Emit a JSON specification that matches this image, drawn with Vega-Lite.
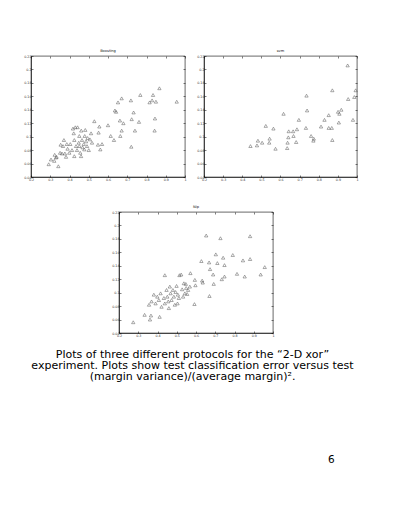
{
  "$schema": "https://vega.github.io/schema/vega-lite/v6.json",
  "padding": {"left": 23, "top": 48, "right": 0, "bottom": 0},
  "background": "white",
  "spacing": 23,
  "title": {"text": "6", "orient": "bottom", "anchor": "end", "dx": -24, "offset": 73, "font": "DejaVu Sans", "fontSize": 10.5, "fontWeight": "normal", "color": "#000"},
  "config": {
    "view": {"stroke": "#000", "strokeWidth": 0.6},
    "axis": {"grid": false, "domainColor": "#000", "domainWidth": 0.6, "tickColor": "#000", "tickWidth": 0.5, "tickSize": -2, "labelFontSize": 3.3, "labelFont": "DejaVu Sans", "labelColor": "#333", "labelPadding": 2, "format": "~g", "labelFlush": false, "labelOverlap": false},
    "title": {"fontSize": 3.6, "font": "DejaVu Sans", "fontWeight": "normal", "color": "#111", "offset": 1.5}
  },
  "datasets": {
    "boosting": [
      {"x": 0.867, "y": 0.172}, {"x": 0.768, "y": 0.162}, {"x": 0.834, "y": 0.162}, {"x": 0.719, "y": 0.154},
      {"x": 0.671, "y": 0.157}, {"x": 0.652, "y": 0.151}, {"x": 0.829, "y": 0.154}, {"x": 0.849, "y": 0.152},
      {"x": 0.816, "y": 0.151}, {"x": 0.957, "y": 0.152}, {"x": 0.636, "y": 0.139}, {"x": 0.642, "y": 0.137},
      {"x": 0.733, "y": 0.136}, {"x": 0.723, "y": 0.126}, {"x": 0.662, "y": 0.124}, {"x": 0.680, "y": 0.120},
      {"x": 0.761, "y": 0.122}, {"x": 0.844, "y": 0.127}, {"x": 0.529, "y": 0.123}, {"x": 0.600, "y": 0.117},
      {"x": 0.555, "y": 0.115}, {"x": 0.614, "y": 0.101}, {"x": 0.671, "y": 0.109}, {"x": 0.664, "y": 0.101},
      {"x": 0.740, "y": 0.109}, {"x": 0.842, "y": 0.109}, {"x": 0.631, "y": 0.095}, {"x": 0.721, "y": 0.085},
      {"x": 0.551, "y": 0.106}, {"x": 0.548, "y": 0.088}, {"x": 0.569, "y": 0.089}, {"x": 0.560, "y": 0.081},
      {"x": 0.292, "y": 0.059}, {"x": 0.304, "y": 0.066}, {"x": 0.321, "y": 0.064}, {"x": 0.323, "y": 0.073},
      {"x": 0.333, "y": 0.070}, {"x": 0.342, "y": 0.056}, {"x": 0.351, "y": 0.076}, {"x": 0.361, "y": 0.075},
      {"x": 0.366, "y": 0.086}, {"x": 0.371, "y": 0.095}, {"x": 0.354, "y": 0.088}, {"x": 0.382, "y": 0.070},
      {"x": 0.390, "y": 0.082}, {"x": 0.399, "y": 0.076}, {"x": 0.404, "y": 0.089}, {"x": 0.413, "y": 0.080},
      {"x": 0.422, "y": 0.105}, {"x": 0.425, "y": 0.095}, {"x": 0.430, "y": 0.114}, {"x": 0.442, "y": 0.114},
      {"x": 0.434, "y": 0.086}, {"x": 0.439, "y": 0.080}, {"x": 0.448, "y": 0.091}, {"x": 0.451, "y": 0.101},
      {"x": 0.456, "y": 0.076}, {"x": 0.461, "y": 0.109}, {"x": 0.465, "y": 0.095}, {"x": 0.468, "y": 0.084},
      {"x": 0.474, "y": 0.089}, {"x": 0.479, "y": 0.101}, {"x": 0.482, "y": 0.110}, {"x": 0.486, "y": 0.093},
      {"x": 0.491, "y": 0.086}, {"x": 0.494, "y": 0.098}, {"x": 0.500, "y": 0.080}, {"x": 0.506, "y": 0.096},
      {"x": 0.512, "y": 0.105}, {"x": 0.517, "y": 0.091}, {"x": 0.418, "y": 0.112}, {"x": 0.386, "y": 0.089},
      {"x": 0.376, "y": 0.075}, {"x": 0.330, "y": 0.069}, {"x": 0.451, "y": 0.086}, {"x": 0.477, "y": 0.081},
      {"x": 0.460, "y": 0.071}, {"x": 0.425, "y": 0.071}
    ],
    "svm": [
      {"x": 0.951, "y": 0.206}, {"x": 0.871, "y": 0.169}, {"x": 0.993, "y": 0.169}, {"x": 0.736, "y": 0.161},
      {"x": 0.954, "y": 0.156}, {"x": 0.986, "y": 0.159}, {"x": 0.739, "y": 0.139}, {"x": 0.616, "y": 0.134},
      {"x": 0.918, "y": 0.140}, {"x": 0.901, "y": 0.137}, {"x": 0.908, "y": 0.134}, {"x": 0.852, "y": 0.132},
      {"x": 0.830, "y": 0.125}, {"x": 0.905, "y": 0.121}, {"x": 0.979, "y": 0.125}, {"x": 0.696, "y": 0.125},
      {"x": 0.523, "y": 0.116}, {"x": 0.563, "y": 0.112}, {"x": 0.812, "y": 0.115}, {"x": 0.852, "y": 0.113},
      {"x": 0.868, "y": 0.113}, {"x": 0.733, "y": 0.113}, {"x": 0.686, "y": 0.111}, {"x": 0.643, "y": 0.108},
      {"x": 0.666, "y": 0.108}, {"x": 0.641, "y": 0.099}, {"x": 0.668, "y": 0.101}, {"x": 0.760, "y": 0.101},
      {"x": 0.774, "y": 0.097}, {"x": 0.772, "y": 0.094}, {"x": 0.543, "y": 0.097}, {"x": 0.541, "y": 0.091},
      {"x": 0.482, "y": 0.094}, {"x": 0.477, "y": 0.087}, {"x": 0.504, "y": 0.091}, {"x": 0.443, "y": 0.086},
      {"x": 0.574, "y": 0.082}, {"x": 0.637, "y": 0.091}, {"x": 0.635, "y": 0.083}, {"x": 0.682, "y": 0.092},
      {"x": 0.871, "y": 0.095}
    ],
    "nip": [
      {"x": 0.653, "y": 0.185}, {"x": 0.727, "y": 0.181}, {"x": 0.881, "y": 0.184}, {"x": 0.703, "y": 0.157},
      {"x": 0.791, "y": 0.156}, {"x": 0.741, "y": 0.152}, {"x": 0.881, "y": 0.150}, {"x": 0.844, "y": 0.148},
      {"x": 0.628, "y": 0.147}, {"x": 0.668, "y": 0.145}, {"x": 0.711, "y": 0.144}, {"x": 0.748, "y": 0.141},
      {"x": 0.957, "y": 0.138}, {"x": 0.673, "y": 0.135}, {"x": 0.689, "y": 0.127}, {"x": 0.813, "y": 0.128},
      {"x": 0.936, "y": 0.127}, {"x": 0.853, "y": 0.124}, {"x": 0.748, "y": 0.124}, {"x": 0.734, "y": 0.120},
      {"x": 0.438, "y": 0.126}, {"x": 0.514, "y": 0.126}, {"x": 0.523, "y": 0.127}, {"x": 0.571, "y": 0.129},
      {"x": 0.594, "y": 0.119}, {"x": 0.632, "y": 0.118}, {"x": 0.635, "y": 0.115}, {"x": 0.692, "y": 0.113},
      {"x": 0.597, "y": 0.111}, {"x": 0.670, "y": 0.095}, {"x": 0.592, "y": 0.083}, {"x": 0.504, "y": 0.084},
      {"x": 0.274, "y": 0.056}, {"x": 0.333, "y": 0.067}, {"x": 0.366, "y": 0.066}, {"x": 0.361, "y": 0.060},
      {"x": 0.411, "y": 0.064}, {"x": 0.381, "y": 0.097}, {"x": 0.356, "y": 0.082}, {"x": 0.369, "y": 0.087},
      {"x": 0.390, "y": 0.084}, {"x": 0.399, "y": 0.094}, {"x": 0.407, "y": 0.089}, {"x": 0.416, "y": 0.099},
      {"x": 0.421, "y": 0.079}, {"x": 0.433, "y": 0.092}, {"x": 0.438, "y": 0.084}, {"x": 0.447, "y": 0.104},
      {"x": 0.451, "y": 0.094}, {"x": 0.456, "y": 0.087}, {"x": 0.459, "y": 0.077}, {"x": 0.464, "y": 0.109},
      {"x": 0.468, "y": 0.099}, {"x": 0.473, "y": 0.089}, {"x": 0.480, "y": 0.104}, {"x": 0.485, "y": 0.094},
      {"x": 0.490, "y": 0.082}, {"x": 0.494, "y": 0.101}, {"x": 0.499, "y": 0.110}, {"x": 0.506, "y": 0.097},
      {"x": 0.511, "y": 0.092}, {"x": 0.528, "y": 0.105}, {"x": 0.537, "y": 0.114}, {"x": 0.542, "y": 0.099},
      {"x": 0.549, "y": 0.107}, {"x": 0.554, "y": 0.098}, {"x": 0.559, "y": 0.104}, {"x": 0.547, "y": 0.113},
      {"x": 0.533, "y": 0.094}, {"x": 0.568, "y": 0.109}
    ]
  },
  "vconcat": [
    {
      "hconcat": [
        {
          "width": 154, "height": 121,
          "title": "Boosting",
          "data": {"name": "boosting"},
          "layer": [
            {"mark": {"type": "point", "shape": "triangle-up", "size": 11, "strokeWidth": 0.5, "color": "#555", "opacity": 1},
             "encoding": {
               "x": {"field": "x", "type": "quantitative", "scale": {"domain": [0.2, 1], "nice": false, "zero": false}, "axis": {"orient": "bottom", "title": null, "values": [0.2, 0.3, 0.4, 0.5, 0.6, 0.7, 0.8, 0.9, 1]}},
               "y": {"field": "y", "type": "quantitative", "scale": {"domain": [0.04, 0.22], "nice": false, "zero": false}, "axis": {"orient": "left", "title": null, "values": [0.04, 0.06, 0.08, 0.1, 0.12, 0.14, 0.16, 0.18, 0.2, 0.22]}}
             }},
            {"mark": {"type": "point", "opacity": 0},
             "encoding": {
               "x": {"field": "x", "type": "quantitative", "axis": {"orient": "top", "title": null, "labels": false, "domain": false, "values": [0.2, 0.3, 0.4, 0.5, 0.6, 0.7, 0.8, 0.9, 1]}},
               "y": {"field": "y", "type": "quantitative", "axis": {"orient": "right", "title": null, "labels": false, "domain": false, "values": [0.04, 0.06, 0.08, 0.1, 0.12, 0.14, 0.16, 0.18, 0.2, 0.22]}}
             }}
          ],
          "resolve": {"axis": {"x": "independent", "y": "independent"}}
        },
        {
          "width": 153, "height": 121,
          "title": "svm",
          "data": {"name": "svm"},
          "layer": [
            {"mark": {"type": "point", "shape": "triangle-up", "size": 11, "strokeWidth": 0.5, "color": "#555", "opacity": 1},
             "encoding": {
               "x": {"field": "x", "type": "quantitative", "scale": {"domain": [0.2, 1], "nice": false, "zero": false}, "axis": {"orient": "bottom", "title": null, "values": [0.2, 0.3, 0.4, 0.5, 0.6, 0.7, 0.8, 0.9, 1]}},
               "y": {"field": "y", "type": "quantitative", "scale": {"domain": [0.04, 0.22], "nice": false, "zero": false}, "axis": {"orient": "left", "title": null, "values": [0.04, 0.06, 0.08, 0.1, 0.12, 0.14, 0.16, 0.18, 0.2, 0.22]}}
             }},
            {"mark": {"type": "point", "opacity": 0},
             "encoding": {
               "x": {"field": "x", "type": "quantitative", "axis": {"orient": "top", "title": null, "labels": false, "domain": false, "values": [0.2, 0.3, 0.4, 0.5, 0.6, 0.7, 0.8, 0.9, 1]}},
               "y": {"field": "y", "type": "quantitative", "axis": {"orient": "right", "title": null, "labels": false, "domain": false, "values": [0.04, 0.06, 0.08, 0.1, 0.12, 0.14, 0.16, 0.18, 0.2, 0.22]}}
             }}
          ],
          "resolve": {"axis": {"x": "independent", "y": "independent"}}
        }
      ],
      "spacing": 19,
      "bounds": "flush"
    },
    {
      "hconcat": [
        {
          "width": 69, "height": 121,
          "view": {"stroke": null},
          "data": {"values": [{}]},
          "mark": {"type": "point", "opacity": 0},
          "encoding": {}
        },
        {
          "width": 154, "height": 121,
          "title": "Nip",
          "data": {"name": "nip"},
          "layer": [
            {"mark": {"type": "point", "shape": "triangle-up", "size": 11, "strokeWidth": 0.5, "color": "#555", "opacity": 1},
             "encoding": {
               "x": {"field": "x", "type": "quantitative", "scale": {"domain": [0.2, 1], "nice": false, "zero": false}, "axis": {"orient": "bottom", "values": [0.2, 0.3, 0.4, 0.5, 0.6, 0.7, 0.8, 0.9, 1],
                 "title": ["Plots of three different protocols for the \u201c2-D xor\u201d", "experiment. Plots show test classification error versus test", "(margin variance)/(average margin)\u00b2."],
                 "titleFont": "DejaVu Sans", "titleFontSize": 11, "titleFontWeight": "normal", "titleColor": "#000", "titleLineHeight": 11, "titlePadding": 12, "titleX": 73}},
               "y": {"field": "y", "type": "quantitative", "scale": {"domain": [0.04, 0.22], "nice": false, "zero": false}, "axis": {"orient": "left", "title": null, "values": [0.04, 0.06, 0.08, 0.1, 0.12, 0.14, 0.16, 0.18, 0.2, 0.22]}}
             }},
            {"mark": {"type": "point", "opacity": 0},
             "encoding": {
               "x": {"field": "x", "type": "quantitative", "axis": {"orient": "top", "title": null, "labels": false, "domain": false, "values": [0.2, 0.3, 0.4, 0.5, 0.6, 0.7, 0.8, 0.9, 1]}},
               "y": {"field": "y", "type": "quantitative", "axis": {"orient": "right", "title": null, "labels": false, "domain": false, "values": [0.04, 0.06, 0.08, 0.1, 0.12, 0.14, 0.16, 0.18, 0.2, 0.22]}}
             }}
          ],
          "resolve": {"axis": {"x": "independent", "y": "independent"}}
        }
      ],
      "spacing": 19,
      "bounds": "flush"
    }
  ]
}
